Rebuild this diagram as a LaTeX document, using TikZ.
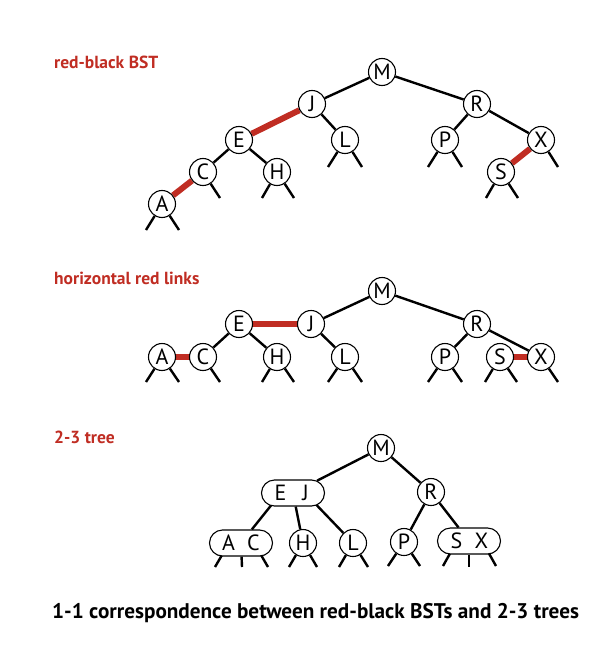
\documentclass[tikz,border=0pt]{standalone}
\usepackage{fontspec}
\setmainfont{PT Sans}
\usetikzlibrary{shapes.misc,backgrounds}
\definecolor{rbred}{RGB}{192,45,35}
\begin{document}
\begin{tikzpicture}[x=1pt,y=-1pt,
  key/.style={circle,draw,line width=1.1pt,fill=white,minimum size=27pt,inner sep=0pt,font=\fontsize{22}{22}\selectfont},
  pair/.style={rounded rectangle,draw,line width=1.1pt,fill=white,minimum width=63pt,minimum height=26pt,inner sep=0pt,font=\fontsize{22}{22}\selectfont},
  link/.style={line width=2.4pt},
  redlink/.style={line width=6pt,draw=rbred},
  lbl/.style={anchor=west,text=rbred,inner sep=0pt,font=\bfseries\fontsize{17.5}{17.5}\selectfont}]
\useasboundingbox (0,0) rectangle (591,650);
\newcommand{\twokeys}[2]{\makebox[0pt]{#1}\hspace{25pt}\makebox[0pt]{#2}}

% ---------- red-black BST ----------
\node[lbl] (t1) at (54,62) {red-black BST};
\node[key] (aM) at (382,72) {M};
\node[key] (aJ) at (312,104) {J};
\node[key] (aR) at (477,104) {R};
\node[key] (aE) at (239,140) {E};
\node[key] (aL) at (345,140) {L};
\node[key] (aP) at (445,140) {P};
\node[key] (aX) at (541,140) {X};
\node[key] (aC) at (203,172) {C};
\node[key] (aH) at (277,172) {H};
\node[key] (aS) at (501,172) {S};
\node[key] (aA) at (162,204) {A};
\begin{scope}[on background layer]
\draw[link] (aM) -- (aJ);
\draw[link] (aM) -- (aR);
\draw[redlink] (aJ) -- (aE);
\draw[link] (aJ) -- (aL);
\draw[link] (aE) -- (aC);
\draw[link] (aE) -- (aH);
\draw[redlink] (aC) -- (aA);
\draw[link] (aR) -- (aP);
\draw[link] (aR) -- (aX);
\draw[redlink] (aX) -- (aS);
\end{scope}
\draw[link] (aA) -- ++(-16,26);
\draw[link] (aA) -- ++(17,26);
\draw[link] (aC) -- ++(17,26);
\draw[link] (aH) -- ++(-15,26);
\draw[link] (aH) -- ++(17,26);
\draw[link] (aL) -- ++(-17,27);
\draw[link] (aL) -- ++(17,27);
\draw[link] (aP) -- ++(-17,27);
\draw[link] (aP) -- ++(17,27);
\draw[link] (aS) -- ++(-15,26);
\draw[link] (aS) -- ++(17,26);
\draw[link] (aX) -- ++(17,27);

% ---------- horizontal red links ----------
\node[lbl] (t2) at (54,278) {horizontal red links};
\node[key] (bM) at (382,291) {M};
\node[key] (bJ) at (311,324) {J};
\node[key] (bE) at (239,324) {E};
\node[key] (bR) at (477,324) {R};
\node[key] (bA) at (162,357) {A};
\node[key] (bC) at (203,357) {C};
\node[key] (bH) at (277,357) {H};
\node[key] (bL) at (345,357) {L};
\node[key] (bP) at (445,357) {P};
\node[key] (bS) at (500,357) {S};
\node[key] (bX) at (541,357) {X};
\begin{scope}[on background layer]
\draw[link] (bM) -- (bJ);
\draw[link] (bM) -- (bR);
\draw[redlink] (bJ) -- (bE);
\draw[link] (bJ) -- (bL);
\draw[link] (bE) -- (bC);
\draw[link] (bE) -- (bH);
\draw[redlink] (bC) -- (bA);
\draw[link] (bR) -- (bP);
\draw[link] (bR) -- (bX);
\draw[redlink] (bX) -- (bS);
\end{scope}
\draw[link] (bA) -- ++(-16,25);
\draw[link] (bA) -- ++(17,25);
\draw[link] (bC) -- ++(17,25);
\draw[link] (bH) -- ++(-15,25);
\draw[link] (bH) -- ++(17,25);
\draw[link] (bL) -- ++(-17,25);
\draw[link] (bL) -- ++(17,25);
\draw[link] (bP) -- ++(-17,25);
\draw[link] (bP) -- ++(17,25);
\draw[link] (bS) -- ++(-15,25);
\draw[link] (bS) -- ++(17,25);
\draw[link] (bX) -- ++(17,25);

% ---------- 2-3 tree ----------
\node[lbl] (t3) at (54,437) {2-3 tree};
\node[key] (cM) at (381,448) {M};
\node[pair] (cEJ) at (293,493) {\twokeys{E}{J}};
\node[key] (cR) at (431,492) {R};
\node[pair] (cAC) at (241,543) {\twokeys{A}{C}};
\node[key] (cH) at (303,543) {H};
\node[key] (cL) at (353,543) {L};
\node[key] (cP) at (404,542) {P};
\node[pair] (cSX) at (469,541) {\twokeys{S}{X}};
\coordinate (acA) at (229,543);
\coordinate (acC) at (254,543);
\coordinate (sxS) at (457,541);
\coordinate (sxX) at (482,541);
\coordinate (ejE) at (281,493);
\coordinate (ejJ) at (305,493);
\begin{scope}[on background layer]
\draw[link] (cM) -- (cEJ);
\draw[link] (cM) -- (cR);
\draw[link] (ejE) -- (cAC);
\draw[link] (cEJ) -- (cH);
\draw[link] (ejJ) -- (cL);
\draw[link] (cR) -- (cP);
\draw[link] (cR) -- (cSX);
\draw[link] (acA) -- (215,567);
\draw[link] (cAC) -- (242,567);
\draw[link] (acC) -- (268,567);
\draw[link] (sxS) -- (443,566);
\draw[link] (cSX) -- (469,567);
\draw[link] (sxX) -- (496,566);
\end{scope}
\draw[link] (cH) -- ++(-14,24);
\draw[link] (cH) -- ++(14,24);
\draw[link] (cL) -- ++(-14,24);
\draw[link] (cL) -- ++(15,24);
\draw[link] (cP) -- ++(-16,24);
\draw[link] (cP) -- ++(16,24);

% ---------- caption ----------
\node[anchor=west,inner sep=0pt,font=\bfseries\fontsize{21.2}{21.2}\selectfont] (cap) at (52,613) {1-1 correspondence between red-black BSTs and 2-3 trees};
\end{tikzpicture}
\end{document}
